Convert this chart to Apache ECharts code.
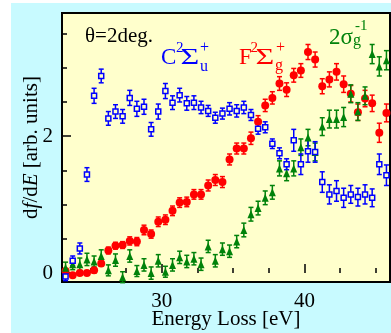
<!DOCTYPE html>
<html>
<head>
<meta charset="utf-8">
<script src="https://cdn.jsdelivr.net/npm/echarts@6/dist/echarts.min.js"></script>
<style>
  html, body { margin: 0; padding: 0; background: #ffffff; }
  #bg { position: absolute; left: 11px; top: 3px; width: 380px; height: 330px; background: #c8faff; }
  #chart { position: absolute; left: 0; top: 0; width: 391px; height: 333px; }
</style>
</head>
<body>
<div id="bg"></div>
<div id="chart"></div>
<script>
// energy loss grid [eV]
var energy = [23.25, 23.75, 24.25, 24.75, 25.25, 25.75, 26.25, 26.75, 27.25, 27.75,
  28.25, 28.75, 29.25, 29.75, 30.25, 30.75, 31.25, 31.75, 32.25, 32.75,
  33.25, 33.75, 34.25, 34.75, 35.25, 35.75, 36.25, 36.75, 37.25, 37.75,
  38.25, 38.75, 39.25, 39.75, 40.25, 40.75, 41.25, 41.75, 42.25, 42.75,
  43.25, 43.75, 44.25, 44.75, 45.25, 45.75]

// C2Sigma_u+  (open squares)
var blueC = [-0.05, 0.18, 0.36, 1.44, 2.59, 2.88, 2.26, 2.36, 2.29, 2.56,
  2.40, 2.43, 2.10, 2.36, 2.66, 2.49, 2.60, 2.48, 2.49, 2.42,
  2.37, 2.27, 2.33, 2.40, 2.37, 2.42, 2.31, 2.11, 2.13, 1.89,
  1.75, 1.59, 1.94, 1.59, 1.78, 1.77, 1.33, 1.15, 1.20, 1.10,
  1.15, 1.11, 1.15, 1.10, 1.59, 1.43]
var blueErr = [0.06, 0.07, 0.08, 0.10, 0.11, 0.10, 0.10, 0.10, 0.10, 0.11,
  0.11, 0.11, 0.10, 0.11, 0.11, 0.10, 0.10, 0.10, 0.10, 0.09,
  0.08, 0.08, 0.08, 0.09, 0.09, 0.09, 0.08, 0.08, 0.08, 0.07,
  0.08, 0.08, 0.16, 0.15, 0.16, 0.15, 0.15, 0.14, 0.15, 0.14,
  0.13, 0.13, 0.14, 0.13, 0.15, 0.15]

// F2Sigma_g+  (filled circles)
var redF = [0.03, -0.03, 0.00, 0.00, 0.04, 0.14, 0.33, 0.40, 0.41, 0.47,
  0.46, 0.63, 0.57, 0.75, 0.78, 0.91, 1.03, 1.04, 1.15, 1.15,
  1.28, 1.36, 1.33, 1.66, 1.82, 1.82, 1.97, 2.21, 2.45, 2.56,
  2.77, 2.68, 2.89, 2.96, 3.23, 3.12, 2.73, 2.83, 2.94, 2.76,
  2.62, 2.35, 2.55, 2.48, 2.05, 2.34]
var redErr = [0.03, 0.03, 0.03, 0.03, 0.04, 0.04, 0.05, 0.05, 0.05, 0.06,
  0.06, 0.07, 0.06, 0.07, 0.07, 0.07, 0.07, 0.07, 0.07, 0.07,
  0.08, 0.08, 0.08, 0.08, 0.08, 0.08, 0.09, 0.09, 0.09, 0.09,
  0.10, 0.10, 0.10, 0.10, 0.11, 0.11, 0.11, 0.11, 0.12, 0.12,
  0.12, 0.12, 0.12, 0.12, 0.14, 0.13]

// 2sigma_g^-1  (filled triangles)
var greenS = [0.08, 0.13, 0.13, 0.20, 0.17, 0.25, 0.04, 0.19, -0.06, 0.25,
  0.03, 0.12, 0.00, 0.18, 0.02, 0.12, 0.23, 0.17, 0.21, 0.13,
  0.39, 0.18, 0.35, 0.32, 0.46, 0.63, 0.86, 0.95, 1.10, 1.18,
  1.53, 1.46, 1.53, 1.84, 1.98, 1.77, 2.14, 2.25, 2.25, 2.28,
  2.62, 2.36, 2.59, 3.20, 3.02, 3.11]
var greenErr = [0.08, 0.08, 0.09, 0.09, 0.08, 0.09, 0.08, 0.09, 0.08, 0.09,
  0.08, 0.09, 0.09, 0.09, 0.08, 0.09, 0.09, 0.09, 0.09, 0.09,
  0.09, 0.09, 0.09, 0.09, 0.09, 0.10, 0.10, 0.10, 0.10, 0.10,
  0.11, 0.11, 0.11, 0.12, 0.12, 0.13, 0.13, 0.13, 0.13, 0.14,
  0.13, 0.13, 0.13, 0.14, 0.14, 0.14]

var xMinorTicks = [25, 27.5, 30, 32.5, 35, 37.5, 40, 42.5, 45]
var xMajorTicks = [30, 40]
var yMinorTicks = [0, 0.5, 1, 1.5, 2, 2.5, 3, 3.5]
var yMajorTicks = [0, 2]

var SERIF = '"Liberation Serif", "DejaVu Serif", serif'
var BLUE = '#0000ff', RED = '#ff0000', GREEN = '#00820a'

function points(vals) {
  return energy.map(function (e, i) { return [e, vals[i]] })
}
function bars(vals, errs) {
  return energy.map(function (e, i) { return [e, vals[i] - errs[i], vals[i] + errs[i]] })
}
function errorSeries(vals, errs, color) {
  return {
    type: 'custom',
    data: bars(vals, errs),
    silent: true,
    renderItem: function (params, api) {
      var top = api.coord([api.value(0), api.value(2)])
      var bot = api.coord([api.value(0), api.value(1)])
      var w = 2.5
      var st = { stroke: color, lineWidth: 1.5 }
      return {
        type: 'group',
        children: [
          { type: 'line', shape: { x1: top[0], y1: top[1], x2: bot[0], y2: bot[1] }, style: st },
          { type: 'line', shape: { x1: top[0] - w, y1: top[1], x2: top[0] + w, y2: top[1] }, style: st },
          { type: 'line', shape: { x1: bot[0] - w, y1: bot[1], x2: bot[0] + w, y2: bot[1] }, style: st }
        ]
      }
    }
  }
}
function txt(str, x, y, size, color, sx) {
  return {
    type: 'text', x: x, y: y, scaleX: sx || 1, silent: true,
    style: {
      text: str, fill: color, font: size + 'px ' + SERIF,
      align: 'left', verticalAlign: 'middle', textAlign: 'left', textVerticalAlign: 'middle'
    }
  }
}

var myChart = echarts.init(document.getElementById('chart'))
var option = {
  animation: false,
  backgroundColor: 'transparent',
  grid: {
    left: 62, top: 13, right: 1, bottom: 51,
    outerBoundsMode: 'none', containLabel: false,
    show: true, backgroundColor: '#ffffcc', borderColor: '#000', borderWidth: 2
  },
  xAxis: [
    {
      type: 'value', min: 23, max: 46, position: 'bottom',
      axisLine: { show: false },
      splitLine: { show: false },
      axisTick: { inside: true, length: 5, customValues: xMinorTicks, lineStyle: { color: '#000', width: 1.5 } },
      axisLabel: { customValues: xMajorTicks, margin: 9, color: '#000', fontSize: 21, fontFamily: SERIF },
      name: 'Energy Loss [eV]', nameLocation: 'middle', nameGap: 27, nameMoveOverlap: false,
      nameTextStyle: { color: '#000', fontSize: 21, fontFamily: SERIF }
    },
    {
      type: 'value', min: 23, max: 46, position: 'bottom',
      axisLine: { show: false },
      splitLine: { show: false },
      axisTick: { inside: true, length: 9, customValues: xMajorTicks, lineStyle: { color: '#000', width: 1.5 } },
      axisLabel: { show: false }
    }
  ],
  yAxis: [
    {
      type: 'value', min: -0.13, max: 3.8, position: 'left',
      axisLine: { show: false },
      splitLine: { show: false },
      axisTick: { inside: true, length: 5, customValues: yMinorTicks, lineStyle: { color: '#000', width: 1.5 } },
      axisLabel: { customValues: yMajorTicks, margin: 9, color: '#000', fontSize: 21, fontFamily: SERIF },
      name: 'd{i|f}/d{i|E} [arb. units]', nameLocation: 'middle', nameGap: 20, nameRotate: 90,
      nameMoveOverlap: false,
      nameTextStyle: {
        color: '#000', fontSize: 21, fontFamily: SERIF,
        rich: { i: { fontStyle: 'italic', fontSize: 21, fontFamily: SERIF, color: '#000' } }
      }
    },
    {
      type: 'value', min: -0.13, max: 3.8, position: 'left',
      axisLine: { show: false },
      splitLine: { show: false },
      axisTick: { inside: true, length: 9, customValues: yMajorTicks, lineStyle: { color: '#000', width: 1.5 } },
      axisLabel: { show: false }
    }
  ],
  series: [
    errorSeries(redF, redErr, RED),
    {
      type: 'scatter', data: points(redF), symbol: 'circle', symbolSize: 8,
      itemStyle: { color: RED, opacity: 1 }, silent: true
    },
    errorSeries(greenS, greenErr, GREEN),
    {
      type: 'scatter', data: points(greenS), symbol: 'triangle', symbolSize: [7, 8],
      itemStyle: { color: GREEN, opacity: 1 }, silent: true
    },
    errorSeries(blueC, blueErr, BLUE),
    {
      type: 'scatter', data: points(blueC), symbol: 'rect', symbolSize: 5,
      itemStyle: { color: '#ffffcc', borderColor: BLUE, borderWidth: 1.5, opacity: 1 }, silent: true
    }
  ],
  graphic: [
    txt('\u03b8=2deg.', 85, 36.5, 21, '#000'),
    // C2Σu+
    txt('C', 161, 58, 23, BLUE),
    txt('2', 176, 48.5, 15, BLUE),
    txt('\u03a3', 180.5, 58, 23, BLUE, 1.4),
    txt('u', 200, 67, 16, BLUE),
    txt('+', 200, 47.5, 16, BLUE),
    // F2Σg+
    txt('F', 239, 58, 23, RED),
    txt('2', 250.5, 48.5, 15, RED),
    txt('\u03a3', 255.5, 58, 23, RED, 1.4),
    txt('g', 275, 66, 16, RED),
    txt('+', 276, 47.5, 16, RED),
    // 2σg-1
    txt('2\u03c3', 329, 38, 23, GREEN),
    txt('g', 353, 40.8, 16, GREEN),
    txt('-1', 355, 25.8, 15, GREEN)
  ]
}
myChart.setOption(option)
window.addEventListener('resize', function () { myChart.resize() })
</script>
</body>
</html>
